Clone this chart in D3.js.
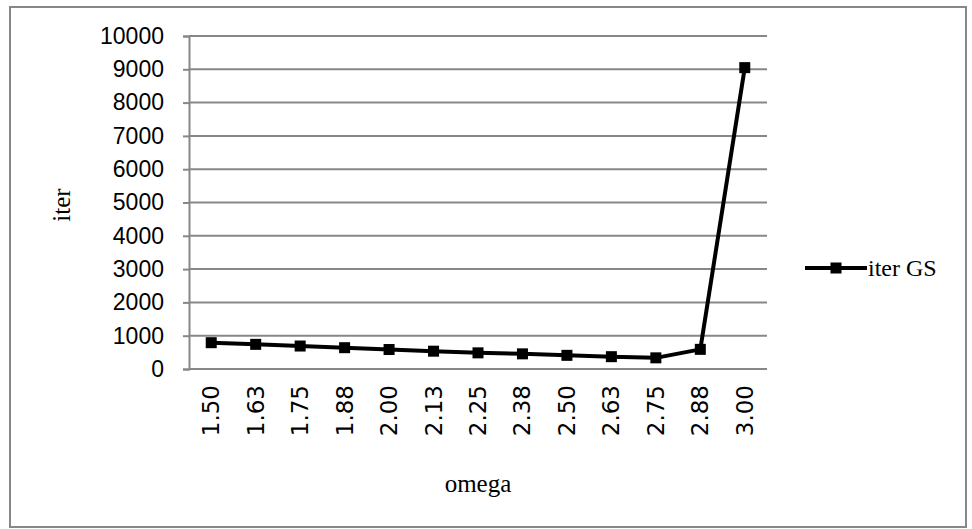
<!DOCTYPE html>
<html>
<head>
<meta charset="utf-8">
<script src="https://cdn.jsdelivr.net/npm/d3@7"></script>
<style>
  html, body { margin: 0; padding: 0; background: #fff; }
  svg { display: block; }
</style>
</head>
<body>
<svg id="chart" width="972" height="529"></svg>
<script>
// omega values on the category axis
const categories = ["1.50","1.63","1.75","1.88","2.00","2.13","2.25","2.38","2.50","2.63","2.75","2.88","3.00"];
// iteration counts for Gauss-Seidel
const iterGS = [790, 740, 690, 640, 585, 535, 485, 455, 410, 370, 335, 590, 9050];
const yTicks = [0,1000,2000,3000,4000,5000,6000,7000,8000,9000,10000];
const seriesName = "iter GS";

(function draw() {
  const svg = d3.select("#chart");
  const plotLeft = 189, plotRight = 767, plotTop = 36, plotBottom = 369;

  const x = d3.scaleBand().domain(categories).range([plotLeft, plotRight]).padding(0);
  const y = d3.scaleLinear().domain([0, 10000]).range([plotBottom, plotTop]);

  const grey = "#878787";

  // outer frame
  svg.append("rect")
    .attr("x", 10).attr("y", 7).attr("width", 956).attr("height", 520)
    .attr("fill", "#fff").attr("stroke", grey).attr("stroke-width", 2);

  // horizontal gridlines
  svg.append("g").selectAll("line")
    .data(yTicks.filter(d => d > 0))
    .join("line")
    .attr("x1", plotLeft).attr("x2", plotRight)
    .attr("y1", d => y(d)).attr("y2", d => y(d))
    .attr("stroke", grey).attr("stroke-width", 2);

  // y axis
  const yAxis = d3.axisLeft(y).tickValues(yTicks).tickSize(6).tickPadding(19).tickFormat(d3.format("d"));
  const gy = svg.append("g").attr("transform", `translate(${plotLeft},0)`).call(yAxis);
  gy.select(".domain").attr("stroke", grey).attr("stroke-width", 2);
  gy.selectAll(".tick line").attr("stroke", grey).attr("stroke-width", 2);
  gy.selectAll(".tick text")
    .attr("font-family", "'Liberation Sans', Arial, sans-serif")
    .attr("font-size", 23).attr("fill", "#000");

  // x axis
  const xAxis = d3.axisBottom(x).tickSize(0).tickPadding(0);
  const gx = svg.append("g").attr("transform", `translate(0,${plotBottom})`).call(xAxis);
  gx.select(".domain").attr("stroke", grey).attr("stroke-width", 2).attr("d", `M${plotLeft},0H${plotRight}`);
  gx.selectAll(".tick text")
    .attr("font-family", "'DejaVu Sans', sans-serif")
    .attr("font-size", 23).attr("fill", "#000")
    .attr("text-anchor", "end")
    .attr("dy", null)
    .attr("y", 0)
    .attr("dominant-baseline", "central")
    .attr("transform", "translate(0,16) rotate(-90)");

  // axis titles
  svg.append("text")
    .attr("x", 478).attr("y", 492)
    .attr("text-anchor", "middle")
    .attr("font-family", "'Liberation Serif', 'Times New Roman', serif")
    .attr("font-size", 25).text("omega");

  svg.append("text")
    .attr("transform", "translate(70,205) rotate(-90)")
    .attr("text-anchor", "middle")
    .attr("font-family", "'Liberation Serif', 'Times New Roman', serif")
    .attr("font-size", 25).text("iter");

  // series line and markers
  const cx = d => x(d) + x.bandwidth() / 2;
  const pts = categories.map((c, i) => [cx(c), y(iterGS[i])]);
  svg.append("path")
    .attr("d", d3.line()(pts))
    .attr("fill", "none").attr("stroke", "#000").attr("stroke-width", 4)
    .attr("stroke-linejoin", "round");
  svg.append("g").selectAll("rect")
    .data(pts)
    .join("rect")
    .attr("x", d => d[0] - 5.5).attr("y", d => d[1] - 5.5)
    .attr("width", 11).attr("height", 11).attr("fill", "#000");

  // legend
  const lg = svg.append("g").attr("transform", "translate(805,268)");
  lg.append("line").attr("x1", 0).attr("x2", 62).attr("y1", 0).attr("y2", 0)
    .attr("stroke", "#000").attr("stroke-width", 4);
  lg.append("rect").attr("x", 31 - 5.5).attr("y", -5.5).attr("width", 11).attr("height", 11).attr("fill", "#000");
  lg.append("text").attr("x", 63).attr("y", 8)
    .attr("font-family", "'Liberation Serif', 'Times New Roman', serif")
    .attr("font-size", 24).text(seriesName);
})();
</script>
</body>
</html>
